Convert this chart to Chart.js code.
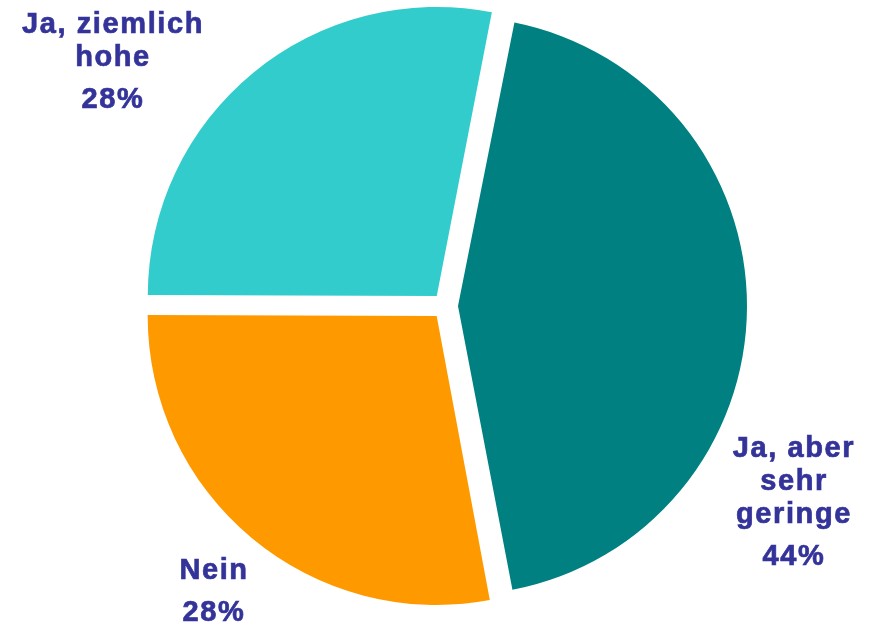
<!DOCTYPE html>
<html>
<head>
<meta charset="utf-8">
<script src="https://cdn.jsdelivr.net/npm/chart.js@4"></script>
<style>
  html, body { margin: 0; padding: 0; background: #fff; }
  canvas { display: block; }
</style>
</head>
<body>
<canvas id="pie" width="872" height="624"></canvas>
<script>
// slices, clockwise from the top
const categories = [["Ja, aber", "sehr", "geringe"], ["Nein"], ["Ja, ziemlich", "hohe"]];
const shares = [44, 28, 28];
const sliceColors = ["#008080", "#FF9900", "#33CCCC"];

// where each label block sits, relative to the pie centre (first baseline)
const labelAnchors = [[349, 151], [-231, 273], [-332, -273]];

// chart.js grows wide exploded slices a bit, keep them all the same radius
const evenRadius = {
  id: "evenRadius",
  beforeDatasetsDraw(chart) {
    const meta = chart.getDatasetMeta(0);
    const r = meta.controller.outerRadius;
    meta.data.forEach(arc => {
      const shift = (arc.options.offset || 0) / 4;
      arc.outerRadius = r - shift * (1 - Math.sin(Math.min(Math.PI, arc.circumference)));
    });
  }
};

const sliceLabels = {
  id: "sliceLabels",
  afterDatasetsDraw(chart) {
    const ctx = chart.ctx;
    const first = chart.getDatasetMeta(0).data[0];
    const cx = first.x;
    const cy = first.y;
    ctx.save();
    ctx.fillStyle = "#333399";
    ctx.strokeStyle = "#333399";
    ctx.lineWidth = 0.7;
    ctx.font = "bold 29px 'Liberation Sans', Arial, sans-serif";
    ctx.letterSpacing = "1.6px";
    ctx.textAlign = "center";
    ctx.textBaseline = "alphabetic";
    const put = (txt, x, y) => {
      ctx.fillText(txt, x, y);
      ctx.strokeText(txt, x, y);
    };
    categories.forEach((lines, i) => {
      const x = cx + labelAnchors[i][0];
      const y = cy + labelAnchors[i][1];
      lines.forEach((txt, k) => put(txt, x, y + k * 33));
      put(shares[i] + "%", x, y + (lines.length - 1) * 33 + 42);
    });
    ctx.restore();
  }
};

new Chart(document.getElementById("pie").getContext("2d"), {
  type: "pie",
  data: {
    labels: categories.map(l => l.join(" ")),
    datasets: [
      {
        data: shares,
        backgroundColor: sliceColors,
        borderWidth: 0,
        offset: 52,
      },
    ],
  },
  options: {
    responsive: false,
    animation: false,
    rotation: 11,
    radius: 289,
    layout: {
      padding: { left: 18, right: 0, top: 0, bottom: 12 },
    },
    plugins: {
      legend: { display: false },
      tooltip: { enabled: false },
    },
  },
  plugins: [evenRadius, sliceLabels],
});
</script>
</body>
</html>
